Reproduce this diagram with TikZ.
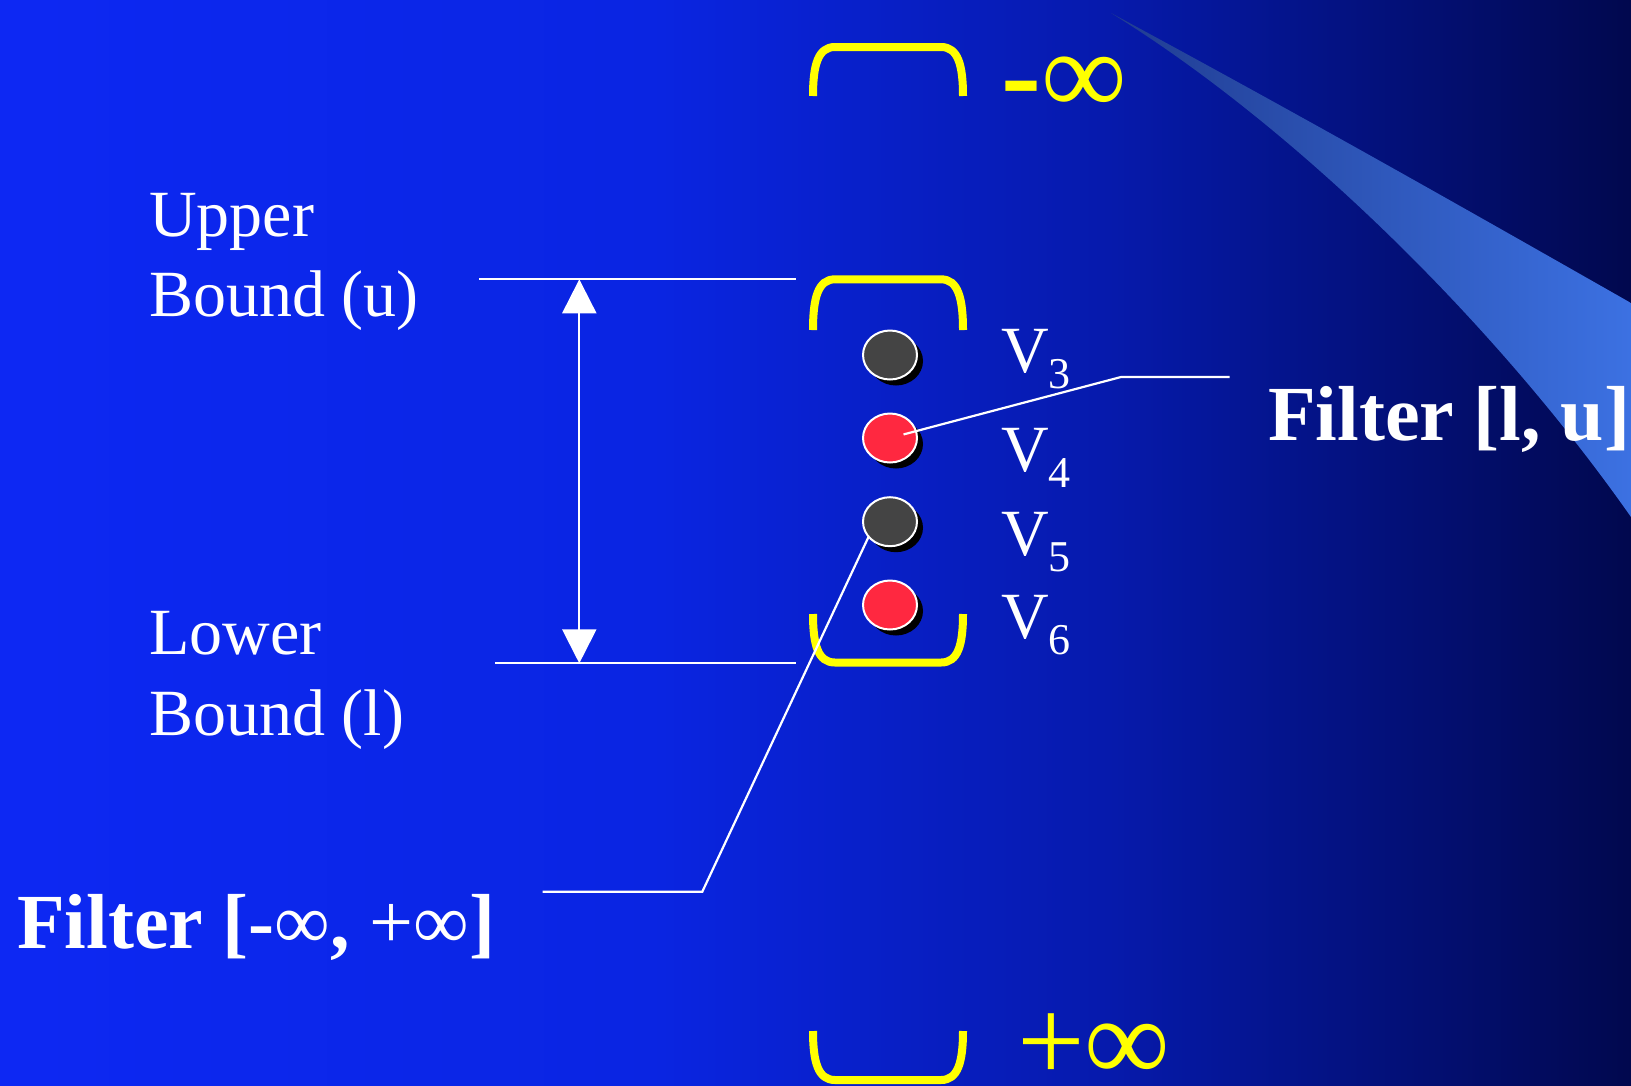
\documentclass[tikz,border=0pt]{standalone}
\usepackage{fontspec}
\setmainfont{Liberation Serif}
\usetikzlibrary{shapes.geometric,arrows.meta,calc,shadows}
\definecolor{bgA}{RGB}{13,40,243}
\definecolor{bgB}{RGB}{10,37,226}
\definecolor{bgC}{RGB}{6,26,172}
\definecolor{bgD}{RGB}{1,8,78}
\definecolor{swA}{RGB}{32,60,145}
\definecolor{swB}{RGB}{60,113,226}
\definecolor{ylw}{RGB}{255,255,0}
\definecolor{dgray}{RGB}{68,68,68}
\definecolor{redd}{RGB}{255,40,64}
\pgfdeclarehorizontalshading{bgshade}{100bp}{color(0bp)=(bgA); color(25bp)=(bgA); color(45bp)=(bgB); color(59bp)=(bgC); color(75bp)=(bgD); color(100bp)=(bgD)}
\begin{document}
\begin{tikzpicture}[x=1pt,y=-1pt,
  ybr/.style={draw=ylw, line width=8pt},
  wline/.style={draw=white, line width=2.2pt},
  vdot/.style={ellipse, draw=white, line width=2pt, minimum width=54pt, minimum height=49pt, inner sep=0pt, outer sep=0pt,
    drop shadow={opacity=1, shadow xshift=6pt, shadow yshift=-6pt, fill=black}},
  vlab/.style={anchor=base west, text=white, font=\fontsize{66}{66}\selectfont, inner sep=0pt},
  lab/.style={anchor=base west, text=white, font=\fontsize{66}{66}\selectfont, inner sep=0pt},
  flab/.style={anchor=base west, text=white, font=\fontsize{78}{78}\selectfont\bfseries, inner sep=0pt},
  inflab/.style={anchor=base west, text=ylw, font=\fontsize{120}{120}\selectfont, inner sep=0pt}]
\useasboundingbox (0,0) rectangle (1631,1085);
\shade[shading=bgshade] (0,0) rectangle (1631,1085);
% swoosh
\shade[left color=swA, right color=swB] (1111,13) .. controls (1300,115) and (1450,200) .. (1631,303) -- (1631,517) .. controls (1500,330) and (1300,130) .. (1111,13) -- cycle;
% brackets
\draw[ybr] (813,96) .. controls (813,65) and (818,47) .. (835,47) -- (941,47) .. controls (958,47) and (963,65) .. (963,96);
\draw[ybr] (813,330) .. controls (813,298) and (818,279.3) .. (835,279.3) -- (941,279.3) .. controls (958,279.3) and (963,298) .. (963,330);
\draw[ybr] (813,614) .. controls (813,645) and (818,662.5) .. (835,662.5) -- (941,662.5) .. controls (958,662.5) and (963,645) .. (963,614);
\draw[ybr] (813,1031) .. controls (813,1062) and (818,1080) .. (835,1080) -- (941,1080) .. controls (958,1080) and (963,1062) .. (963,1031);
% infinity labels
\node[inflab] (minf) at (1001,114) {{\bfseries -}∞};
\node[inflab] (pinf) at (1017,1081) {+∞};
% left labels
\node[lab] (up1) at (149,236) {Upper};
\node[lab] (up2) at (149,316.7) {Bound (u)};
\node[lab] (lo1) at (149,654.3) {Lower};
\node[lab] (lo2) at (149,735) {Bound (l)};
% values
\node[vdot, fill=dgray] (c3) at (890,355) {};
\node[vdot, fill=redd] (c4) at (890,438) {};
\node[vdot, fill=dgray] (c5) at (890,521.7) {};
\node[vdot, fill=redd] (c6) at (890,605) {};
\node[vlab] (v3) at (1001,372) {V\raisebox{-16pt}{\fontsize{44}{44}\selectfont 3}};
\node[vlab] (v4) at (1001,471.7) {V\raisebox{-16pt}{\fontsize{44}{44}\selectfont 4}};
\node[vlab] (v5) at (1001,555) {V\raisebox{-16pt}{\fontsize{44}{44}\selectfont 5}};
\node[vlab] (v6) at (1001,638.3) {V\raisebox{-16pt}{\fontsize{44}{44}\selectfont 6}};
% filter labels
\node[flab] (f1) at (1268,440) {Filter [l, u]};
\node[flab] (f2) at (17,948) {Filter [-{\mdseries ∞}, {\mdseries +∞}]};
% bound lines and arrow
\coordinate (uL) at (479,279.3); \coordinate (uR) at (796,279.3);
\coordinate (lL) at (495,663.3); \coordinate (lR) at (796,663.3);
\coordinate (aT) at (579.3,279.3); \coordinate (aB) at (579.3,663.3);
\draw[wline] (uL) -- (uR);
\draw[wline] (lL) -- (lR);
\draw[wline, {Triangle[width=34pt,length=34pt]}-{Triangle[width=34pt,length=34pt]}] (aT) -- (aB);
% connectors
\coordinate (k1) at (1121,377); \coordinate (e1) at (1229.7,377);
\draw[wline] ($(c4.center)!14pt!(k1)$) -- (k1) -- (e1);
\coordinate (k2) at (702.3,891.7); \coordinate (e2) at (542.7,891.7);
\draw[wline] (c5.215) -- (k2) -- (e2);
\end{tikzpicture}
\end{document}
